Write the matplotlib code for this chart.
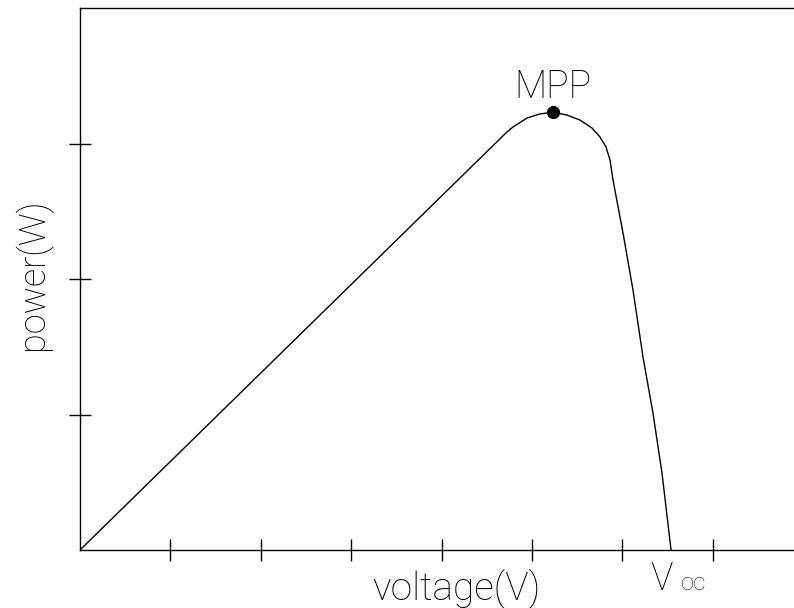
import numpy as np
import matplotlib.pyplot as plt

# P-V curve of a PV module (arbitrary units)
voltage = [0.0, 4.723, 4.790, 4.945, 5.088, 5.232, 5.387, 5.531, 5.664,
           5.752, 5.819, 5.863, 5.896, 6.007, 6.117, 6.228, 6.338, 6.438, 6.538]
power = [0.0, 3.085, 3.122, 3.188, 3.218, 3.231, 3.210, 3.173, 3.114,
         3.048, 2.974, 2.878, 2.731, 2.339, 1.919, 1.424, 1.011, 0.568, 0.0]
mpp_v, mpp_p = 5.232, 3.231
voc = 6.538
xticks = [1, 2, 3, 4, 5, 6, 7]
yticks = [1, 2, 3]

plt.rcParams['font.family'] = ['Roboto', 'DejaVu Sans']
FW = 100

fig = plt.figure(figsize=(7.94, 6.08), dpi=100)
ax = fig.add_axes([80/794, 58/608, 1 - 80/794, 542/608])

ax.plot(voltage, power, color='black', lw=1.0)
ax.plot([mpp_v], [mpp_p], 'o', color='black', ms=8.5)

ax.set_xlim(0, 714/90.4)
ax.set_ylim(0, 4.0)
ax.set_xticks(xticks)
ax.set_yticks(yticks)
ax.set_xticklabels([])
ax.set_yticklabels([])
ax.tick_params(direction='inout', length=16, width=1, color='black')
ax.spines['right'].set_visible(False)
for s in ['left', 'top', 'bottom']:
    ax.spines[s].set_linewidth(1.0)
    ax.spines[s].set_color('black')

ax.annotate('MPP', (mpp_v, mpp_p), xytext=(0, 10), textcoords='offset points',
            ha='center', va='baseline', fontsize=27, fontweight=FW)
# V_oc label under the open-circuit point
ax.annotate('V', (voc, 0), xytext=(1, -29), textcoords='offset points',
            ha='right', va='baseline', fontsize=27, fontweight=FW,
            annotation_clip=False)
ax.annotate('OC', (voc, 0), xytext=(7, -29), textcoords='offset points',
            ha='left', va='baseline', fontsize=14, fontweight=FW,
            annotation_clip=False)

fig.text(456/794, 8/608, 'voltage(V)', ha='center', va='baseline',
         fontsize=28, fontweight=FW)
fig.text(32/794, 1 - 274/608, 'power(W)', ha='center', va='center',
         rotation=90, fontsize=26, fontweight=FW)

fig.savefig('out.png', dpi=100)
